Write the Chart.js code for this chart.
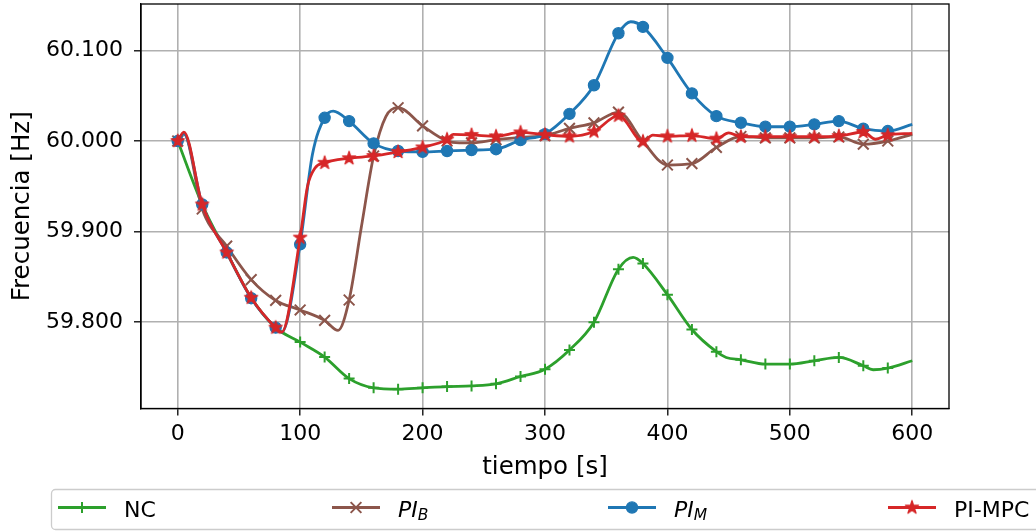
<!DOCTYPE html>
<html>
<head>
<meta charset="utf-8">
<script src="https://cdn.jsdelivr.net/npm/chart.js@4.4.0/dist/chart.umd.min.js"></script>
<style>
  html, body { margin: 0; padding: 0; background: #fff; }
</style>
</head>
<body>
<canvas id="freq" width="1036" height="531"></canvas>
<script>
// Grid frequency after the load step, one series per controller
const ncTime = [0, 20, 40, 60, 80, 100, 120, 140, 160, 180, 200, 220, 240, 260, 280, 300, 320, 340, 360, 372, 380, 400, 420, 440, 448, 460, 480, 500, 520, 540, 560, 568, 580, 600];
const ncFreq = [60.000, 59.930, 59.877, 59.827, 59.794, 59.778, 59.7615, 59.7377, 59.7275, 59.726, 59.7275, 59.7289, 59.7296, 59.7319, 59.740, 59.7481, 59.7693, 59.800, 59.8585, 59.8715, 59.8648, 59.8304, 59.7919, 59.7674, 59.761, 59.7585, 59.7537, 59.7537, 59.7574, 59.7611, 59.7519, 59.7475, 59.7493, 59.7574];

const piBTime = [0, 5, 20, 40, 60, 80, 100, 120, 131, 140, 150, 160, 170, 180, 200, 220, 230, 240, 260, 280, 300, 320, 340, 360, 380, 400, 420, 440, 460, 480, 500, 520, 540, 560, 580, 600];
const piBFreq = [60.000, 60.008, 59.925, 59.884, 59.847, 59.824, 59.8135, 59.802, 59.791, 59.8245, 59.905, 59.9835, 60.027, 60.0368, 60.0168, 60.000, 59.998, 59.998, 60.0015, 60.004, 60.006, 60.014, 60.020, 60.032, 59.9995, 59.9735, 59.975, 59.993, 60.005, 60.0035, 60.0035, 60.0035, 60.0045, 59.9965, 60.000, 60.0074];

const piMTime = [0, 5, 20, 40, 60, 80, 85, 100, 110, 120, 127, 140, 160, 180, 200, 220, 240, 260, 280, 300, 320, 340, 360, 370, 380, 400, 420, 440, 460, 480, 500, 520, 540, 560, 580, 600];
const piMFreq = [60.000, 60.008, 59.930, 59.877, 59.8265, 59.794, 59.789, 59.886, 59.985, 60.0257, 60.033, 60.022, 59.9974, 59.989, 59.988, 59.989, 59.990, 59.991, 60.001, 60.0076, 60.030, 60.0616, 60.119, 60.1317, 60.126, 60.0918, 60.0526, 60.0275, 60.0202, 60.0158, 60.0158, 60.0184, 60.022, 60.0136, 60.011, 60.0184];

const mpcTime = [0, 5, 20, 40, 60, 80, 85, 100, 106, 112, 120, 140, 160, 180, 200, 220, 225, 240, 260, 280, 300, 320, 340, 360, 380, 388, 400, 420, 440, 450, 460, 480, 500, 520, 540, 560, 570, 580, 600];
const mpcFreq = [60.000, 60.0099, 59.930, 59.877, 59.827, 59.794, 59.789, 59.8934, 59.950, 59.970, 59.976, 59.981, 59.9835, 59.988, 59.993, 60.0018, 60.0074, 60.0068, 60.0052, 60.0095, 60.0070, 60.0052, 60.0105, 60.028, 59.9995, 60.0065, 60.0052, 60.006, 60.0026, 60.009, 60.0048, 60.0048, 60.0048, 60.0048, 60.0055, 60.010, 60.002, 60.0065, 60.0085];

const xTicks = [0, 100, 200, 300, 400, 500, 600];
const yTicks = [59.8, 59.9, 60.0, 60.1];

// legend labels: main text + optional subscript
const seriesLabels = [
  { text: 'NC', sub: '', italic: false },
  { text: 'PI', sub: 'B', italic: true },
  { text: 'PI', sub: 'M', italic: true },
  { text: 'PI-MPC', sub: '', italic: false }
];

const GREEN = '#2ca02c', BROWN = '#8c564b', BLUE = '#1f77b4', RED = '#d62728';
const FONT = "'DejaVu Sans'";
const LINE_W = 2.8;

Chart.defaults.font.family = FONT;
Chart.defaults.color = '#000';

// filled five-point star, like the '*' marker
function makeStar(color, r) {
  const size = Math.ceil(r * 2 + 4);
  const c = document.createElement('canvas');
  c.width = size; c.height = size;
  const g = c.getContext('2d');
  g.translate(size / 2, size / 2);
  g.beginPath();
  for (let i = 0; i < 10; i++) {
    const rad = i % 2 === 0 ? r : r * 0.382;
    const a = -Math.PI / 2 + i * Math.PI / 5;
    g.lineTo(rad * Math.cos(a), rad * Math.sin(a));
  }
  g.closePath();
  g.fillStyle = color;
  g.fill();
  g.lineWidth = 1.2;
  g.strokeStyle = color;
  g.lineJoin = 'round';
  g.stroke();
  return c;
}
const starImg = makeStar(RED, 7);

// markers every 20 s, none on the last sample
function isMarker(t) {
  return t % 20 === 0 && t < 600;
}

function series(label, times, freqs, color, style, radius, pointBorder, order) {
  return {
    label: label,
    data: times.map((t, i) => ({ x: t, y: freqs[i] })),
    borderColor: color,
    backgroundColor: color,
    borderWidth: LINE_W,
    pointStyle: style,
    pointRadius: ctx => (ctx.raw && isMarker(ctx.raw.x)) ? radius : 0,
    pointHoverRadius: 0,
    pointBorderWidth: pointBorder,
    pointBackgroundColor: color,
    pointBorderColor: color,
    cubicInterpolationMode: 'monotone',
    fill: false,
    order: order
  };
}

const markers = [
  { color: GREEN, style: 'cross', radius: 5.5, border: 2 },
  { color: BROWN, style: 'crossRot', radius: 7.6, border: 2 },
  { color: BLUE, style: 'circle', radius: 5.6, border: 1.2 },
  { color: RED, style: starImg, radius: 5, border: 1 }
];

// top and right spines
const framePlugin = {
  id: 'frame',
  afterDatasetsDraw(chart) {
    const { ctx, chartArea: a } = chart;
    ctx.save();
    ctx.strokeStyle = '#000';
    ctx.lineWidth = 1.3;
    ctx.strokeRect(a.left, a.top, a.right - a.left, a.bottom - a.top);
    ctx.restore();
  }
};

// legend strip under the plot, four columns
const legendPlugin = {
  id: 'bottomLegend',
  afterDraw(chart) {
    const ctx = chart.ctx;
    const boxX = 51.5, boxY = 489.5, boxW = 1010, boxH = 40, r = 4;
    ctx.save();
    ctx.beginPath();
    ctx.moveTo(boxX + r, boxY);
    ctx.lineTo(boxX + boxW - r, boxY);
    ctx.arcTo(boxX + boxW, boxY, boxX + boxW, boxY + r, r);
    ctx.lineTo(boxX + boxW, boxY + boxH - r);
    ctx.arcTo(boxX + boxW, boxY + boxH, boxX + boxW - r, boxY + boxH, r);
    ctx.lineTo(boxX + r, boxY + boxH);
    ctx.arcTo(boxX, boxY + boxH, boxX, boxY + boxH - r, r);
    ctx.lineTo(boxX, boxY + r);
    ctx.arcTo(boxX, boxY, boxX + r, boxY, r);
    ctx.closePath();
    ctx.fillStyle = 'rgba(255,255,255,0.8)';
    ctx.fill();
    ctx.strokeStyle = '#cccccc';
    ctx.lineWidth = 1.3;
    ctx.stroke();

    const columns = [58, 332, 608, 888];
    const lineY = 507.5, baseY = 516.5;
    seriesLabels.forEach((lab, i) => {
      const m = markers[i];
      const x0 = columns[i];
      ctx.strokeStyle = m.color;
      ctx.fillStyle = m.color;
      ctx.lineWidth = LINE_W;
      ctx.beginPath();
      ctx.moveTo(x0, lineY);
      ctx.lineTo(x0 + 48, lineY);
      ctx.stroke();
      ctx.lineWidth = m.border;
      Chart.helpers.drawPoint(ctx, { pointStyle: m.style, radius: m.radius, borderWidth: m.border, rotation: 0 }, x0 + 24, lineY);

      ctx.fillStyle = '#000';
      ctx.textBaseline = 'alphabetic';
      ctx.textAlign = 'left';
      const tx = x0 + 66;
      ctx.font = (lab.italic ? 'italic ' : '') + '22px ' + FONT;
      ctx.fillText(lab.text, tx, baseY);
      if (lab.sub) {
        const w = ctx.measureText(lab.text).width;
        ctx.font = (lab.italic ? 'italic ' : '') + '15.5px ' + FONT;
        ctx.fillText(lab.sub, tx + w, baseY + 3.5);
      }
    });
    ctx.restore();
  }
};

const gridStyle = { color: '#b0b0b0', lineWidth: 1.6, tickColor: '#000', tickLength: 7, tickWidth: 1.3 };

new Chart(document.getElementById('freq'), {
  type: 'line',
  data: {
    datasets: [
      series('NC', ncTime, ncFreq, GREEN, markers[0].style, markers[0].radius, markers[0].border, 4),
      series('PI_B', piBTime, piBFreq, BROWN, markers[1].style, markers[1].radius, markers[1].border, 3),
      series('PI_M', piMTime, piMFreq, BLUE, markers[2].style, markers[2].radius, markers[2].border, 2),
      series('PI-MPC', mpcTime, mpcFreq, RED, markers[3].style, markers[3].radius, markers[3].border, 1)
    ]
  },
  options: {
    responsive: false,
    devicePixelRatio: 1,
    animation: false,
    events: [],
    layout: { autoPadding: false, padding: { left: 0, top: 4, right: 87, bottom: 0 } },
    plugins: {
      legend: { display: false },
      tooltip: { enabled: false }
    },
    scales: {
      x: {
        type: 'linear',
        min: -30,
        max: 630,
        afterBuildTicks: scale => { scale.ticks = xTicks.map(v => ({ value: v })); },
        afterFit: scale => {
          scale.height = 122.5;
          scale.paddingLeft = 0;
          scale.paddingRight = 0;
        },
        ticks: {
          autoSkip: false,
          maxRotation: 0,
          padding: 6,
          font: { size: 22 },
          color: '#000',
          callback: v => String(v)
        },
        grid: gridStyle,
        border: { color: '#000', width: 1.3 },
        title: {
          display: true,
          text: 'tiempo [s]',
          font: { size: 24.5 },
          color: '#000',
          padding: { top: 0, bottom: 49 }
        }
      },
      y: {
        type: 'linear',
        min: 59.7047,
        max: 60.1513,
        afterBuildTicks: scale => { scale.ticks = yTicks.map(v => ({ value: v })); },
        afterFit: scale => {
          scale.width = 141;
          scale.paddingTop = 0;
          scale.paddingBottom = 0;
        },
        ticks: {
          padding: 11,
          font: { size: 22 },
          color: '#000',
          callback: v => v.toFixed(3)
        },
        grid: gridStyle,
        border: { color: '#000', width: 1.3 },
        title: {
          display: true,
          text: 'Frecuencia [Hz]',
          font: { size: 24.5 },
          color: '#000',
          padding: { top: 8, bottom: 0 }
        }
      }
    }
  },
  plugins: [framePlugin, legendPlugin]
});
</script>
</body>
</html>
